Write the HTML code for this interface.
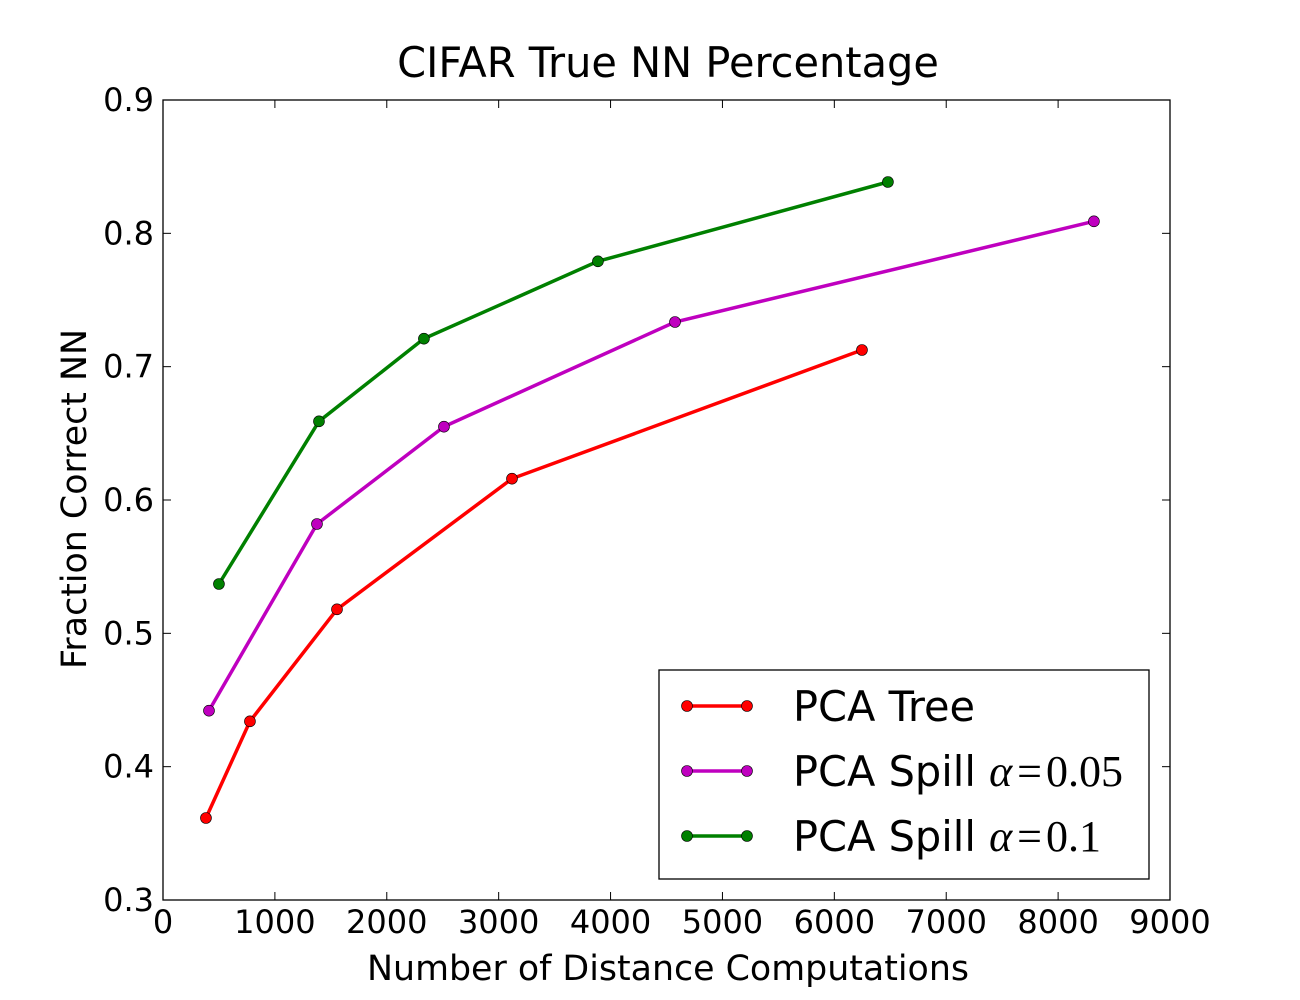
<!DOCTYPE html>
<html><head><meta charset="utf-8"><style>
body{margin:0;background:#fff;}
svg{display:block;font-family:"DejaVu Sans","Liberation Sans",sans-serif;}
</style></head><body>
<svg id="chart" width="1300" height="1000">
<rect x="0" y="0" width="1300" height="1000" fill="#fff"/>
<text x="668" y="77" font-size="41.5" text-anchor="middle">CIFAR True NN Percentage</text>
<text x="668" y="980" font-size="34.8" text-anchor="middle">Number of Distance Computations</text>
<text transform="translate(86,499) rotate(-90)" font-size="34.8" text-anchor="middle">Fraction Correct NN</text>
<g id="ticks"></g>
<g id="series"></g>
<rect x="163" y="100" width="1007" height="800" fill="none" stroke="#000" stroke-width="1.3"/>
<g>
<rect x="659" y="670" width="490" height="209" fill="#fff" stroke="#000" stroke-width="1.3"/>
<g>
<line x1="687" y1="706" x2="747" y2="706" stroke="#ff0000" stroke-width="3.5"/><circle cx="687" cy="706" r="5.5" fill="#ff0000" stroke="#000" stroke-width="0.6"/><circle cx="747" cy="706" r="5.5" fill="#ff0000" stroke="#000" stroke-width="0.6"/>
<text x="793" y="721" font-size="41.5">PCA Tree</text></g>
<g>
<line x1="687" y1="771" x2="747" y2="771" stroke="#bf00bf" stroke-width="3.5"/><circle cx="687" cy="771" r="5.5" fill="#bf00bf" stroke="#000" stroke-width="0.6"/><circle cx="747" cy="771" r="5.5" fill="#bf00bf" stroke="#000" stroke-width="0.6"/>
<text x="793" y="786" font-size="41.5">PCA Spill <tspan font-family="Liberation Serif,serif" font-style="italic" font-size="44">α</tspan><tspan font-family="Liberation Serif,serif" font-size="44" dx="5">=</tspan><tspan font-family="Liberation Serif,serif" font-size="44" dx="4">0.05</tspan></text></g>
<g>
<line x1="687" y1="836" x2="747" y2="836" stroke="#008000" stroke-width="3.5"/><circle cx="687" cy="836" r="5.5" fill="#008000" stroke="#000" stroke-width="0.6"/><circle cx="747" cy="836" r="5.5" fill="#008000" stroke="#000" stroke-width="0.6"/>
<text x="793" y="851" font-size="41.5">PCA Spill <tspan font-family="Liberation Serif,serif" font-style="italic" font-size="44">α</tspan><tspan font-family="Liberation Serif,serif" font-size="44" dx="5">=</tspan><tspan font-family="Liberation Serif,serif" font-size="44" dx="4">0.1</tspan></text></g>
</g>
</svg>
<script>
const xTicks=[0,1000,2000,3000,4000,5000,6000,7000,8000,9000];
const yTicks=[0.3,0.4,0.5,0.6,0.7,0.8,0.9];
const treeX=[384,777,1555,3119,6247];
const treeY=[0.3615,0.434,0.518,0.616,0.7125];
const spill005X=[411,1376,2511,4576,8320];
const spill005Y=[0.442,0.582,0.655,0.7335,0.809];
const spill01X=[500,1394,2332,3887,6479];
const spill01Y=[0.537,0.659,0.721,0.779,0.8385];
const NS="http://www.w3.org/2000/svg";
function sx(v){return 163+v/9000*1007;}
function sy(v){return 900-(v-0.3)/0.6*800;}
function mk(t,a,p){const e=document.createElementNS(NS,t);for(const k in a)e.setAttribute(k,a[k]);p.appendChild(e);return e;}
const tg=document.getElementById('ticks');
xTicks.forEach(v=>{const x=sx(v);
mk('line',{x1:x,y1:900,x2:x,y2:892,stroke:'#000','stroke-width':1},tg);
mk('line',{x1:x,y1:100,x2:x,y2:108,stroke:'#000','stroke-width':1},tg);
const t=mk('text',{x:x,y:933,'font-size':32,'text-anchor':'middle'},tg);t.textContent=v;

});
yTicks.forEach(v=>{const y=sy(v);
mk('line',{x1:163,y1:y,x2:171,y2:y,stroke:'#000','stroke-width':1},tg);
mk('line',{x1:1170,y1:y,x2:1162,y2:y,stroke:'#000','stroke-width':1},tg);
const t=mk('text',{x:154,y:y+11,'font-size':32,'text-anchor':'end'},tg);t.textContent=v.toFixed(1);

});
const sg=document.getElementById('series');
function draw(xs,ys,c,name){const g=mk('g',{},sg);


mk('polyline',{points:xs.map((x,i)=>sx(x)+','+sy(ys[i])).join(' '),fill:'none',stroke:c,'stroke-width':3.5},g);
xs.forEach((x,i)=>{const p=mk('circle',{cx:sx(x),cy:sy(ys[i]),r:5.5,fill:c,stroke:'#000','stroke-width':0.6},g);

});}
draw(treeX,treeY,'#ff0000','series-pca-tree');
draw(spill005X,spill005Y,'#bf00bf','series-pca-spill-005');
draw(spill01X,spill01Y,'#008000','series-pca-spill-01');
</script>
</body></html>
